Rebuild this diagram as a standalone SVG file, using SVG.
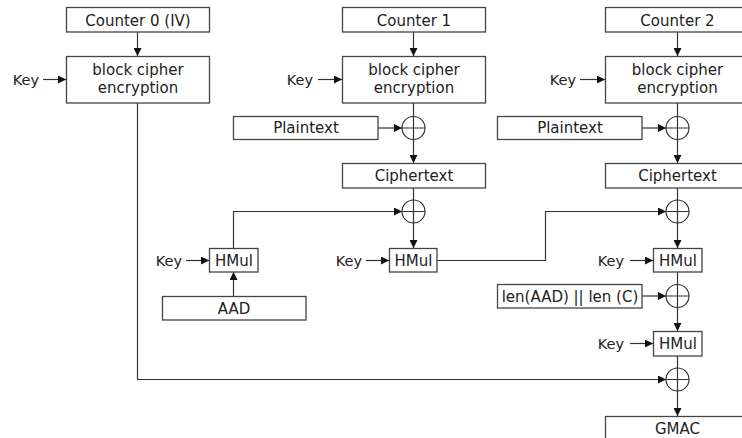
<svg xmlns="http://www.w3.org/2000/svg" width="742" height="438" viewBox="0 0 742 438">
<defs>
<marker id="ah" viewBox="0 0 10 10" refX="10" refY="5" markerWidth="8" markerHeight="8" markerUnits="userSpaceOnUse" orient="auto">
<path d="M0,0 L10,5 L0,10 z" fill="#111"/>
</marker>
<style>
.box{fill:#fff;stroke:#444;stroke-width:1.3}
.t{font-family:"DejaVu Sans",sans-serif;font-size:15px;fill:#222;text-anchor:middle}
.k{font-family:"DejaVu Sans",sans-serif;font-size:14.5px;fill:#222;text-anchor:end}
.ln{fill:none;stroke:#333;stroke-width:1.2}
.ar{fill:none;stroke:#333;stroke-width:1.2;marker-end:url(#ah)}
.x{fill:#fff;stroke:#333;stroke-width:1.2}
</style>
</defs>
<rect width="742" height="438" fill="#fff"/>

<g id="connectors">
<path class="ar" d="M137.5,32 V56"/>
<path class="ar" d="M43,79.5 H66"/>
<path class="ar" d="M137.5,103 V379.5 H666"/>
<path class="ar" d="M413.5,32 V56"/>
<path class="ar" d="M318,79.5 H342"/>
<path class="ar" d="M413.5,103 V163"/>
<path class="ar" d="M378,128 H402"/>
<path class="ar" d="M413.5,188 V248"/>
<path class="ar" d="M233.5,248 V211.5 H402"/>
<path class="ar" d="M233.5,296 V272"/>
<path class="ar" d="M186,260.5 H209"/>
<path class="ar" d="M366,260.5 H389"/>
<path class="ar" d="M437,260.5 H545.5 V211.5 H666"/>
<path class="ar" d="M677.5,32 V56"/>
<path class="ar" d="M580,79.5 H605"/>
<path class="ar" d="M677.5,103 V163"/>
<path class="ar" d="M642,128 H666"/>
<path class="ar" d="M677.5,188 V248"/>
<path class="ar" d="M630,260.5 H653"/>
<path class="ar" d="M677.5,272 V331"/>
<path class="ar" d="M642,296 H666"/>
<path class="ar" d="M630,343.5 H653"/>
<path class="ar" d="M677.5,356 V416"/>
</g>

<g id="counter0"><rect class="box" x="66.5" y="7.5" width="143" height="24.5"/><text class="t" x="138" y="25.5">Counter 0 (IV)</text></g>
<g id="cipher0"><rect class="box" x="66.5" y="56.5" width="143" height="46.5"/><text class="t" x="138" y="75">block cipher</text><text class="t" x="138" y="93">encryption</text></g>
<g id="key0"><text class="k" x="39" y="85">Key</text></g>

<g id="counter1"><rect class="box" x="342.5" y="7.5" width="143" height="24.5"/><text class="t" x="414" y="25.5">Counter 1</text></g>
<g id="cipher1"><rect class="box" x="342.5" y="56.5" width="143" height="46.5"/><text class="t" x="414" y="75">block cipher</text><text class="t" x="414" y="93">encryption</text></g>
<g id="key1"><text class="k" x="313" y="85">Key</text></g>
<g id="plain1"><rect class="box" x="233.5" y="116.5" width="144.5" height="23"/><text class="t" x="306" y="133">Plaintext</text></g>
<g id="xor1"><circle class="x" cx="413.5" cy="128" r="11.5"/><path class="ln" d="M402,128 H425 M413.5,116.5 V139.5"/></g>
<g id="ct1"><rect class="box" x="342.5" y="163.5" width="143" height="24.5"/><text class="t" x="414" y="181">Ciphertext</text></g>
<g id="xor2"><circle class="x" cx="413.5" cy="211.5" r="11.5"/><path class="ln" d="M402,211.5 H425 M413.5,200 V223"/></g>
<g id="hmul1"><rect class="box" x="209.5" y="248.5" width="48.5" height="23.5"/><text class="t" x="234" y="265.5">HMul</text></g>
<g id="keyh1"><text class="k" x="182" y="265.5">Key</text></g>
<g id="aad"><rect class="box" x="162.5" y="296.5" width="143.5" height="23.5"/><text class="t" x="234" y="313.5">AAD</text></g>
<g id="hmul2"><rect class="box" x="389.5" y="248.5" width="47.5" height="23.5"/><text class="t" x="413.5" y="265.5">HMul</text></g>
<g id="keyh2"><text class="k" x="362" y="265.5">Key</text></g>

<g id="counter2"><rect class="box" x="605.5" y="7.5" width="144" height="24.5"/><text class="t" x="677.5" y="25.5">Counter 2</text></g>
<g id="cipher2"><rect class="box" x="605.5" y="56.5" width="144" height="46.5"/><text class="t" x="677.5" y="75">block cipher</text><text class="t" x="677.5" y="93">encryption</text></g>
<g id="key2"><text class="k" x="576" y="85">Key</text></g>
<g id="plain2"><rect class="box" x="497.5" y="116.5" width="144.5" height="23"/><text class="t" x="570" y="133">Plaintext</text></g>
<g id="xor3"><circle class="x" cx="677.5" cy="128" r="11.5"/><path class="ln" d="M666,128 H689 M677.5,116.5 V139.5"/></g>
<g id="ct2"><rect class="box" x="605.5" y="163.5" width="144" height="24.5"/><text class="t" x="677.5" y="181">Ciphertext</text></g>
<g id="xor4"><circle class="x" cx="677.5" cy="211.5" r="11.5"/><path class="ln" d="M666,211.5 H689 M677.5,200 V223"/></g>
<g id="hmul3"><rect class="box" x="653.5" y="248.5" width="48.5" height="23.5"/><text class="t" x="678" y="265.5">HMul</text></g>
<g id="keyh3"><text class="k" x="624" y="265.5">Key</text></g>
<g id="len"><rect class="box" x="497.5" y="284.5" width="144.5" height="23.5"/><text class="t" x="570" y="301.5">len(AAD) || len (C)</text></g>
<g id="xor5"><circle class="x" cx="677.5" cy="296" r="11.5"/><path class="ln" d="M666,296 H689 M677.5,284.5 V307.5"/></g>
<g id="hmul4"><rect class="box" x="653.5" y="331.5" width="48.5" height="24.5"/><text class="t" x="678" y="349">HMul</text></g>
<g id="keyh4"><text class="k" x="624" y="348.5">Key</text></g>
<g id="xor6"><circle class="x" cx="677.5" cy="379.5" r="11.5"/><path class="ln" d="M666,379.5 H689 M677.5,368 V391"/></g>
<g id="gmac"><rect class="box" x="605.5" y="416.5" width="144" height="30"/><text class="t" x="677.5" y="433.5">GMAC</text></g>
</svg>
